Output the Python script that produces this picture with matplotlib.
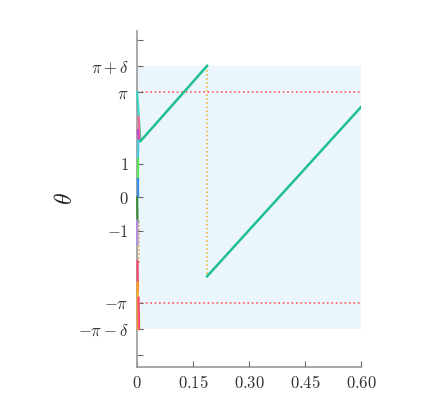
import matplotlib
matplotlib.use("Agg")
import matplotlib.pyplot as plt
import numpy as np

plt.rcParams["mathtext.fontset"] = "cm"
plt.rcParams["font.family"] = "serif"
plt.rcParams["font.serif"] = ["DejaVu Serif"]

delta = np.pi / 4

# main trajectory (two pieces, wrapped at pi + delta)
t_main1 = [0.009, 0.1875]
theta_main1 = [1.68, np.pi + delta]
t_main2 = [0.1875, 0.60]
theta_main2 = [-np.pi + delta, 2.70]

# fast transients near t = 0
trans_t0 = [0.000, 0.004, 0.002, 0.003, 0.002, 0.001, 0.000, 0.000, 0.001, 0.001, 0.004]
trans_th0 = [np.pi, 2.40, 2.00, 1.70, 1.15, 0.55, 0.00, -0.70, -1.90, -2.55, -3.00]
trans_t1 = [0.009, 0.006, 0.004, 0.002, 0.002, 0.001, 0.001, 0.001, 0.002, 0.002, 0.005]
trans_th1 = [1.68, 1.75, 1.70, 1.10, 0.55, 0.00, -0.75, -1.40, -2.75, -3.93, -3.93]
trans_colors = ["#3fd6c6", "#f76d8e", "#c447c4", "#48c9e0", "#5ee65a", "#3a8ee6",
                "#3d8b3d", "#b08ee0", "#f04a6a", "#f5a623", "#ff4f6f"]

# wrap markers
wrap_t = [0.005, 0.1875]
wrap_top = [-0.70, np.pi + delta]
wrap_bot = [-2.00, -np.pi + delta]

yticks = [-1.5 * np.pi, -np.pi - delta, -np.pi, -1, 0, 1, np.pi, np.pi + delta, 1.5 * np.pi]
ytick_labels = ["", r"$-\pi-\delta$", r"$-\pi$", r"$-1$", r"$0$", r"$1$",
                r"$\pi$", r"$\pi+\delta$", ""]
xticks = [0, 0.15, 0.30, 0.45, 0.60]
xtick_labels = [r"$0$", r"$0.15$", r"$0.30$", r"$0.45$", r"$0.60$"]

fig = plt.figure(figsize=(4.34, 4.13), dpi=100)
ax = fig.add_axes([0.316, 0.111, 0.516, 0.815])

ax.fill_between([0, 0.6], -np.pi - delta, np.pi + delta, color="#eaf6fb", lw=0, zorder=0)
ax.plot([0, 0.6], [np.pi, np.pi], color="#ff5a5a", ls=":", lw=1.2, zorder=1)
ax.plot([0, 0.6], [-np.pi, -np.pi], color="#ff5a5a", ls=":", lw=1.2, zorder=1)

for t, a, b in zip(wrap_t, wrap_top, wrap_bot):
    ax.plot([t, t], [a, b], color="#f5a623", ls=":", lw=1.1, zorder=1)

for a, b, c, d, col in zip(trans_t0, trans_th0, trans_t1, trans_th1, trans_colors):
    ax.plot([a, c], [b, d], color=col, lw=1.6, zorder=4, clip_on=False)

ax.plot(t_main1, theta_main1, color="#1fbf8f", lw=1.8, zorder=5, clip_on=False)
ax.plot(t_main2, theta_main2, color="#1fbf8f", lw=1.8, zorder=5)

ax.set_xlim(0, 0.6)
ax.set_ylim(-5.07, 4.98)
ax.set_xticks(xticks)
ax.set_xticklabels(xtick_labels)
ax.set_yticks(yticks)
ax.set_yticklabels(ytick_labels)
ax.tick_params(direction="in", length=4, width=0.8, color="#666666",
               labelsize=12, labelcolor="#333333", pad=6)

for side in ["top", "right"]:
    ax.spines[side].set_visible(False)
for side in ["left", "bottom"]:
    ax.spines[side].set_color("#999999")
    ax.spines[side].set_linewidth(1.2)

ax.set_ylabel(r"$\theta$", fontsize=17, color="#222222", labelpad=1)

fig.savefig("out.png", dpi=100)
